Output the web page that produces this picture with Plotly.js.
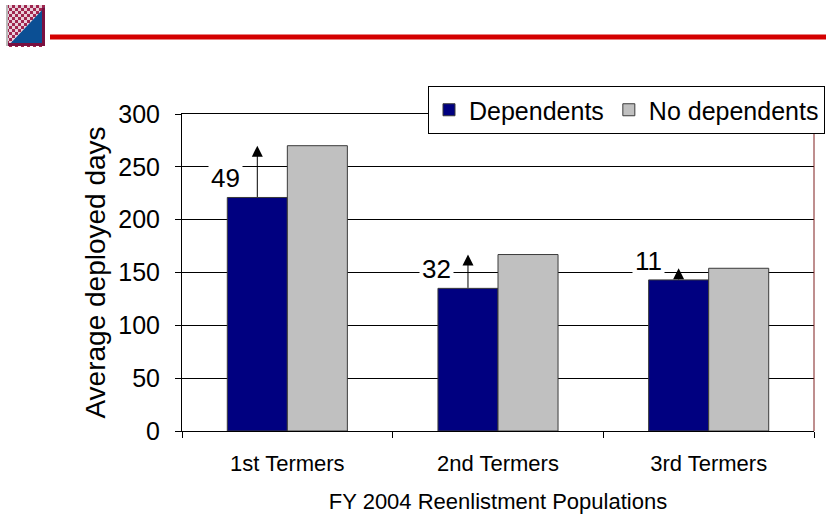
<!DOCTYPE html>
<html>
<head>
<meta charset="utf-8">
<script src="https://cdn.plot.ly/plotly-3.0.1.min.js"></script>
<style>
  html, body { margin: 0; padding: 0; background: #ffffff; }
  #chart { width: 826px; height: 514px; }
</style>
</head>
<body>
<div id="chart"></div>
<script>
// ---- Data ----
const categories = ['1st Termers', '2nd Termers', '3rd Termers'];
const dependents = [221, 135, 143];
const noDependents = [270, 167, 154];
const differences = [49, 32, 11];
const seriesNames = ['Dependents', 'No dependents'];
const yTicks = [0, 50, 100, 150, 200, 250, 300];

// ---- Geometry helpers (plot area in pixels) ----
const W = 826, H = 514;
const M = { l: 182, r: 12, t: 114, b: 83, autoexpand: false };
const PW = W - M.l - M.r, PH = H - M.t - M.b;
const px = x => (x - M.l) / PW;
const py = y => (H - M.b - y) / PH;

const FONT = 'Liberation Sans, Arial, Helvetica, sans-serif';

const traces = [
  {
    type: 'bar', name: seriesNames[0], x: categories, y: dependents,
    marker: { color: '#000080', line: { color: '#3a3a3a', width: 1 } },
    hoverinfo: 'skip'
  },
  {
    type: 'bar', name: seriesNames[1], x: categories, y: noDependents,
    marker: { color: '#C0C0C0', line: { color: '#3a3a3a', width: 1 } },
    hoverinfo: 'skip'
  }
];

// bar-group geometry
const BARGAP = 0.43;
const depOffset = -(1 - BARGAP) / 4;

const annotations = [];
categories.forEach((c, i) => {
  // difference label (white box breaks the gridline behind it)
  annotations.push({
    x: i + depOffset, y: dependents[i], xref: 'x', yref: 'y',
    xanchor: 'right', yanchor: 'bottom', xshift: -14, yshift: 1,
    text: String(differences[i]), showarrow: false,
    bgcolor: '#ffffff', borderpad: 2,
    font: { family: FONT, size: 26, color: '#000000' }
  });
  // arrow from the Dependents bar top up to the No dependents level
  annotations.push({
    x: i + depOffset, y: noDependents[i], xref: 'x', yref: 'y',
    ax: i + depOffset, ay: dependents[i], axref: 'x', ayref: 'y',
    text: '', showarrow: true, arrowhead: 2, arrowsize: 2.2, arrowwidth: 1,
    arrowcolor: '#000000', standoff: 0, startstandoff: 0, borderpad: 0
  });
});

// ---- Header decoration: icon + red rule ----
const shapes = [];
shapes.push({ type: 'line', xref: 'paper', yref: 'paper',
  x0: px(50), x1: px(830), y0: py(37), y1: py(37),
  line: { color: '#D40000', width: 5 } });
const ix0 = 6, iy0 = 5, ix1 = 45, iy1 = 46;
shapes.push({ type: 'rect', xref: 'paper', yref: 'paper',
  x0: px(ix0), x1: px(ix1), y0: py(iy1), y1: py(iy0),
  fillcolor: '#E8D0DA', line: { width: 0 } });
const cell = 3;
for (let yy = iy0; yy < iy1; yy += cell) {
  for (let xx = ix0; xx < ix1; xx += cell) {
    const ci = (xx - ix0) / cell, cj = (yy - iy0) / cell;
    if ((ci + cj) % 2 === 0) {
      shapes.push({ type: 'rect', xref: 'paper', yref: 'paper',
        x0: px(xx), x1: px(xx + cell), y0: py(yy + cell), y1: py(yy),
        fillcolor: '#A0264F', line: { width: 0 } });
    }
  }
}
shapes.push({ type: 'path', xref: 'paper', yref: 'paper',
  path: `M ${px(ix1)} ${py(iy0 + 2)} L ${px(ix1)} ${py(iy1)} L ${px(ix0 + 2)} ${py(iy1)} Z`,
  fillcolor: '#0B4F94', line: { width: 0 } });
shapes.push({ type: 'rect', xref: 'paper', yref: 'paper',
  x0: px(ix1 - 3), x1: px(ix1), y0: py(iy1), y1: py(iy0 + 3),
  fillcolor: '#7A1040', line: { width: 0 } });
shapes.push({ type: 'rect', xref: 'paper', yref: 'paper',
  x0: px(ix0 + 2), x1: px(ix1), y0: py(iy1), y1: py(iy1 - 3),
  fillcolor: '#7A1040', line: { width: 0 } });
shapes.push({ type: 'rect', xref: 'paper', yref: 'paper',
  x0: px(ix0), x1: px(ix0 + 2), y0: py(iy1), y1: py(iy0),
  fillcolor: '#B8B8B8', line: { width: 0 } });
// right border of plot area (dark red)
shapes.push({ type: 'line', xref: 'paper', yref: 'paper',
  x0: 1, x1: 1, y0: 0, y1: 1, line: { color: '#7F1F1F', width: 1 } });

const layout = {
  width: W, height: H,
  margin: M,
  paper_bgcolor: '#ffffff', plot_bgcolor: '#ffffff',
  font: { family: FONT, color: '#000000' },
  barmode: 'group', bargap: BARGAP, bargroupgap: 0,
  showlegend: true,
  legend: {
    orientation: 'h', x: px(428), y: py(86), xanchor: 'left', yanchor: 'top',
    bgcolor: '#ffffff', bordercolor: '#000000', borderwidth: 1,
    font: { family: FONT, size: 25, color: '#000000' },
    itemwidth: 30, tracegroupgap: 0
  },
  xaxis: {
    type: 'category', range: [-0.5, 2.5], fixedrange: true,
    showline: true, linecolor: '#000000', linewidth: 1, mirror: true,
    ticks: 'outside', tickson: 'boundaries', ticklen: 6, tickcolor: '#000000',
    ticklabelstandoff: 13,
    tickfont: { family: FONT, size: 22, color: '#000000' },
    showgrid: false, zeroline: false,
    title: { text: 'FY 2004 Reenlistment Populations', standoff: 25,
      font: { family: FONT, size: 22, color: '#000000' } }
  },
  yaxis: {
    range: [0, 300], tickvals: yTicks, fixedrange: true,
    showline: true, linecolor: '#000000', linewidth: 1,
    ticks: 'outside', ticklen: 6, tickcolor: '#000000',
    ticklabelstandoff: 10,
    tickfont: { family: FONT, size: 25, color: '#000000' },
    showgrid: true, gridcolor: '#000000', gridwidth: 1, zeroline: false,
    title: { text: 'Average deployed days', standoff: 4,
      font: { family: FONT, size: 28, color: '#000000' } }
  },
  annotations: annotations,
  shapes: shapes
};

Plotly.newPlot('chart', traces, layout, { displayModeBar: false, staticPlot: true });
</script>
</body>
</html>
